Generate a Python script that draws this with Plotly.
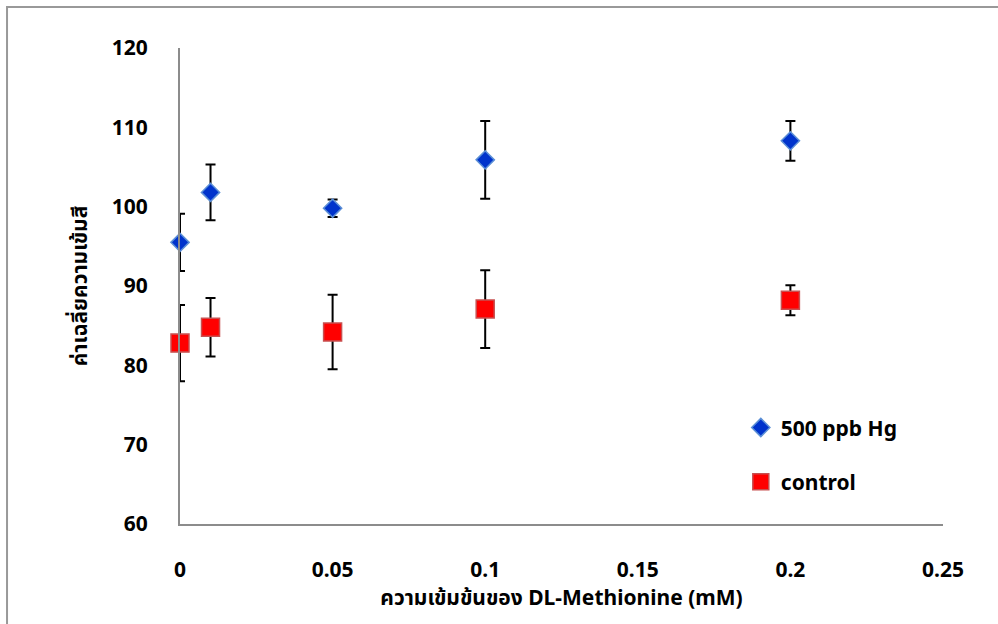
import plotly.graph_objects as go

x_vals = [0, 0.01, 0.05, 0.1, 0.2]
hg_mean = [95.5, 101.8, 99.8, 105.9, 108.3]
hg_err = [3.6, 3.5, 1.1, 4.9, 2.5]
ctrl_mean = [82.8, 84.8, 84.2, 87.1, 88.2]
ctrl_err = [4.8, 3.7, 4.7, 4.9, 1.9]

series_names = ["500 ppb Hg", "control"]
x_title = "ความเข้มข้นของ DL-Methionine (mM)"
y_title = "ค่าเฉลี่ยความเข้มสี"

FONT = "Noto Sans, Noto Sans Thai, sans-serif"

fig = go.Figure()
fig.add_trace(go.Scatter(
    x=x_vals, y=hg_mean, mode="markers", name=series_names[0],
    legendgroup="a", cliponaxis=False,
    marker=dict(symbol="diamond", size=14, color="#0033CC",
                line=dict(color="#5B8FD6", width=1.5)),
    error_y=dict(type="data", array=hg_err, visible=True, color="black",
                 thickness=2, width=5),
))
fig.add_trace(go.Scatter(
    x=x_vals, y=ctrl_mean, mode="markers", name=series_names[1],
    legendgroup="b", cliponaxis=False,
    marker=dict(symbol="square", size=18, color="#FF0000",
                line=dict(color="#C85050", width=1.5)),
    error_y=dict(type="data", array=ctrl_err, visible=True, color="black",
                 thickness=2, width=5),
))

fig.add_shape(type="rect", xref="paper", yref="paper",
              x0=-0.2267, y0=-0.5, x1=1.3, y1=1.086,
              line=dict(color="#999999", width=2), layer="below")

fig.update_layout(
    width=998, height=624,
    margin=dict(l=180, r=55, t=48, b=100),
    paper_bgcolor="white", plot_bgcolor="white",
    font=dict(family=FONT, size=21, color="black"),
    showlegend=True,
    legend=dict(x=0.735, y=0.245, xanchor="left", yanchor="top",
                bgcolor="rgba(0,0,0,0)", tracegroupgap=24,
                font=dict(size=21, family=FONT, weight="bold"),
                traceorder="grouped"),
    xaxis=dict(range=[0, 0.25], tickvals=[0, 0.05, 0.1, 0.15, 0.2, 0.25],
               ticktext=["0", "0.05", "0.1", "0.15", "0.2", "0.25"],
               showgrid=False, zeroline=False, showline=True,
               linecolor="#8C8C8C", linewidth=2, ticks="",
               ticklabelstandoff=26,
               tickfont=dict(size=21, weight="bold"),
               title=dict(text=x_title, standoff=8,
                          font=dict(size=21, weight="bold"))),
    yaxis=dict(range=[60, 120], dtick=10,
               showgrid=False, zeroline=False, showline=True,
               linecolor="#8C8C8C", linewidth=2, ticks="",
               ticklabelstandoff=26,
               tickfont=dict(size=21, weight="bold"),
               title=dict(text=y_title, standoff=18,
                          font=dict(size=21, weight="bold"))),
)

fig.write_html("out.html")
